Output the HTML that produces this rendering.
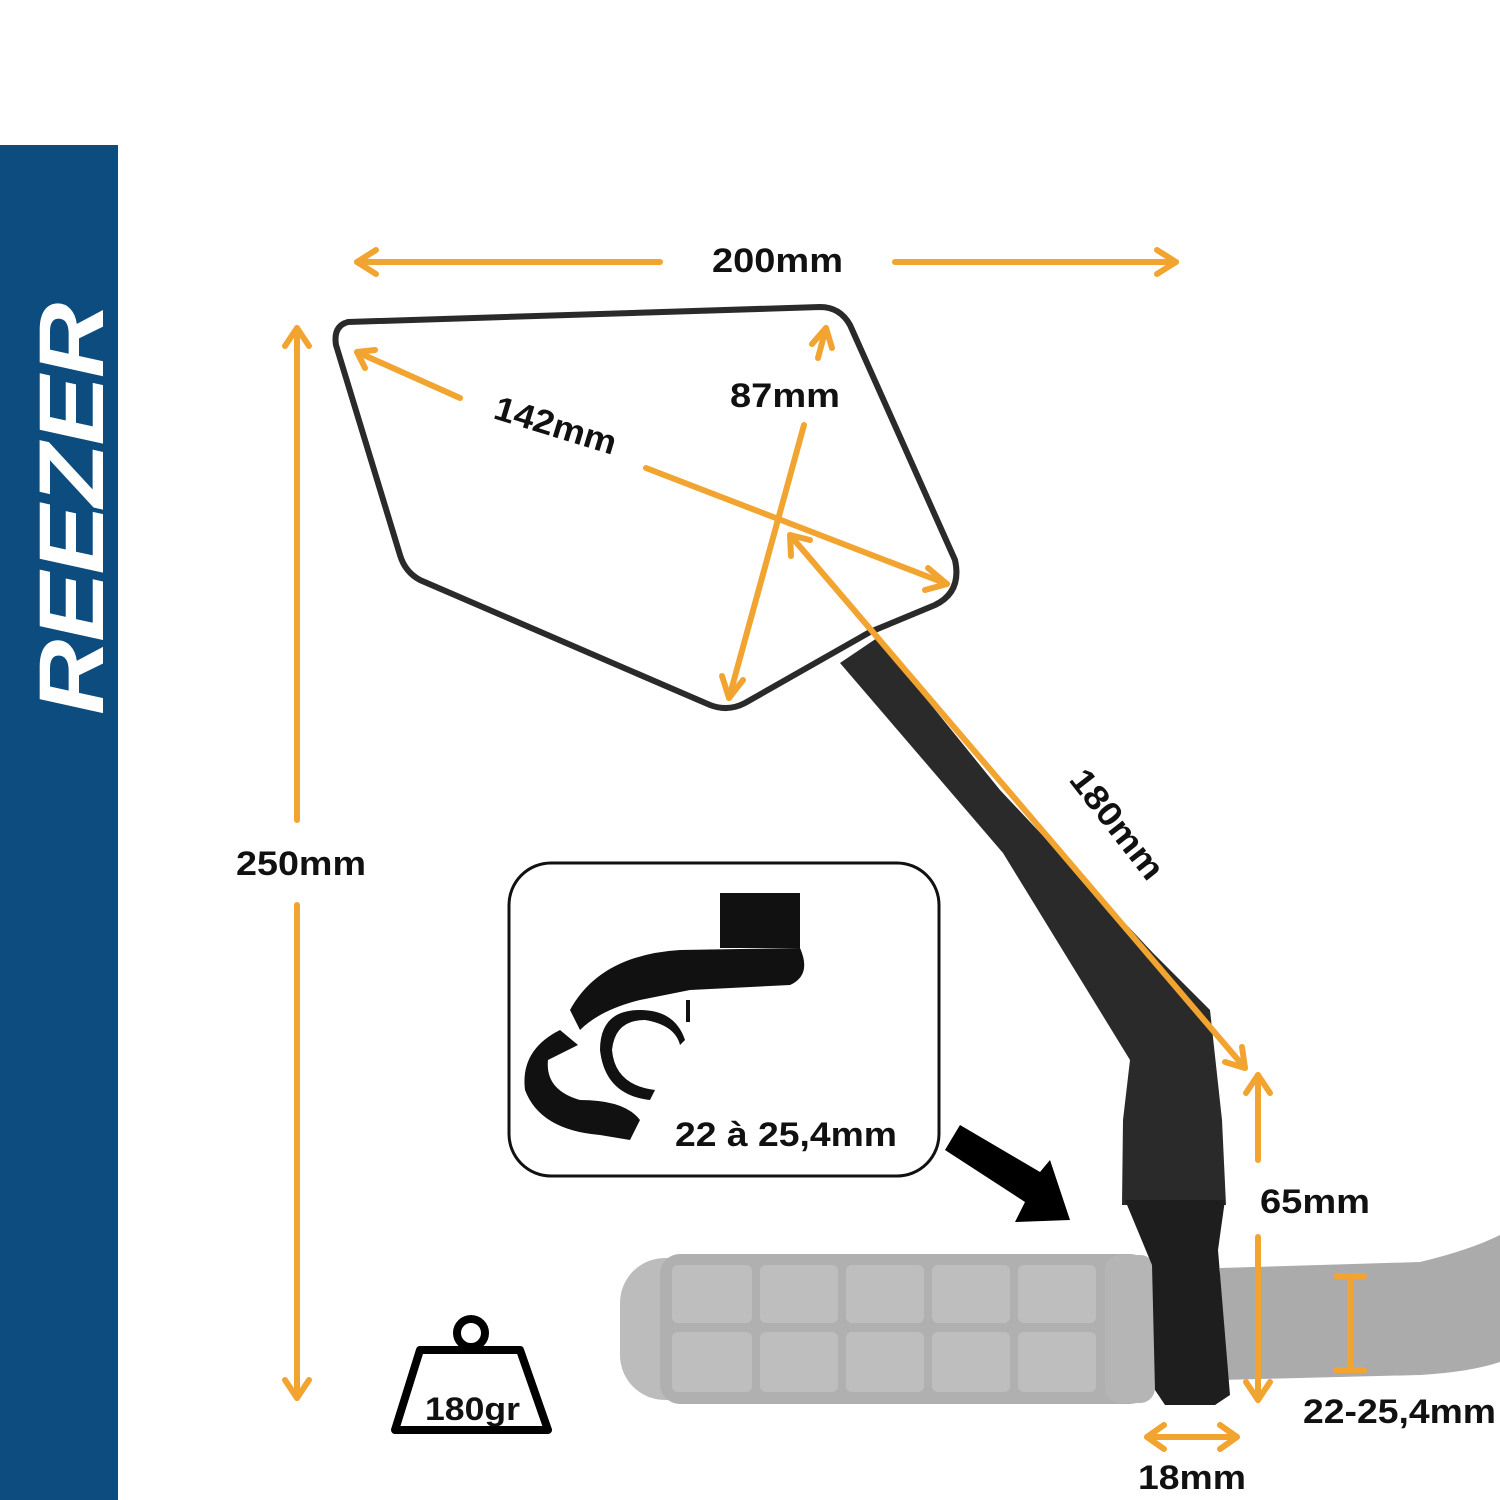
<!DOCTYPE html>
<html><head><meta charset="utf-8"><style>
html,body{margin:0;padding:0;background:#fff;}
svg{display:block}
text{font-family:"Liberation Sans","DejaVu Sans",sans-serif;font-weight:bold;fill:#111}
</style></head><body>
<svg width="1500" height="1500" viewBox="0 0 1500 1500" xmlns="http://www.w3.org/2000/svg">
<rect x="0" y="0" width="1500" height="1500" fill="#fff"/>
<rect x="0" y="145" width="118" height="1355" fill="#0c4c7e"/>
<text transform="translate(103,715) rotate(-90)" style="font-size:92px;font-style:italic;fill:#fff;letter-spacing:-2px" textLength="410" lengthAdjust="spacingAndGlyphs">REEZER</text>

<!-- grip -->
<g>
<rect x="620" y="1258" width="540" height="142" rx="45" fill="#bcbcbc"/>
<rect x="660" y="1254" width="490" height="150" rx="20" fill="#b0b0b0"/>
<g fill="#bebebe">
<rect x="672" y="1265" width="80" height="58" rx="6"/><rect x="760" y="1265" width="78" height="58" rx="6"/><rect x="846" y="1265" width="78" height="58" rx="6"/><rect x="932" y="1265" width="78" height="58" rx="6"/><rect x="1018" y="1265" width="78" height="58" rx="6"/>
<rect x="672" y="1332" width="80" height="60" rx="6"/><rect x="760" y="1332" width="78" height="60" rx="6"/><rect x="846" y="1332" width="78" height="60" rx="6"/><rect x="932" y="1332" width="78" height="60" rx="6"/><rect x="1018" y="1332" width="78" height="60" rx="6"/>
</g>
<rect x="1105" y="1255" width="50" height="148" rx="15" fill="#b5b5b5"/>
</g>
<!-- handlebar -->
<path d="M1220 1268 L1420 1262 Q1470 1250 1500 1235 L1500 1362 Q1470 1372 1420 1375 L1220 1380 Z" fill="#ababab"/>

<!-- arm -->
<path d="M840 663 L877 638 L1000 790 L1153 953 L1210 1010 L1222 1120 L1226 1205 L1122 1205 L1123 1120 L1130 1060 L1003 853 Z" fill="#2a2a2a"/>
<path d="M1125 1200 L1225 1200 L1218 1250 L1230 1395 L1215 1405 L1165 1405 L1155 1390 L1152 1265 Z" fill="#1e1e1e"/>

<!-- mirror -->
<path d="M348 322 L820 307 Q840 307 850 325 L955 560 Q962 592 935 605 L870 632 L745 703 Q728 712 710 705 L420 580 Q405 572 400 555 L336 345 Q333 326 348 322 Z" fill="#fff" stroke="#2a2a2a" stroke-width="6"/>

<!-- inset box -->
<rect x="509" y="863" width="430" height="313" rx="42" fill="#fff" stroke="#111" stroke-width="3"/>
<g fill="#111">
<rect x="720" y="893" width="80" height="55"/>
<path d="M570 1010 Q600 955 680 950 L800 948 Q812 975 790 985 L690 990 L640 1000 Q600 1010 580 1030 Z"/>
<path d="M560 1030 Q520 1050 525 1090 Q540 1130 600 1135 L630 1140 L640 1120 Q625 1100 580 1100 Q545 1090 548 1060 L578 1045 Z"/>
<path d="M640 1010 Q600 1010 600 1050 Q605 1095 650 1100 L655 1090 Q615 1085 612 1050 Q615 1020 645 1020 Q675 1025 680 1045 L685 1040 Q675 1010 640 1010 Z"/>
<rect x="686" y="1000" width="4" height="22"/>
</g>
<text x="675" y="1146" style="font-size:34px" textLength="222" lengthAdjust="spacingAndGlyphs">22 à 25,4mm</text>

<!-- black arrow -->
<path d="M945 1150 L960 1125 L1040 1172 L1050 1160 L1070 1220 L1015 1222 L1025 1202 Z" fill="#000"/>

<!-- weight -->
<circle cx="471" cy="1333" r="14" fill="none" stroke="#000" stroke-width="8"/>
<path d="M420 1350 L520 1350 L548 1430 L395 1430 Z" fill="#fff" stroke="#000" stroke-width="8" stroke-linejoin="round"/>
<text x="425" y="1420" style="font-size:32px" textLength="95" lengthAdjust="spacingAndGlyphs">180gr</text>

<!-- orange dimensions -->
<g stroke="#f2a431" stroke-width="6" fill="none" stroke-linecap="round" stroke-linejoin="round">
<line x1="357" y1="262" x2="660" y2="262"/><polyline points="376,250 357,262 376,274"/>
<line x1="895" y1="262" x2="1176" y2="262"/><polyline points="1157,250 1176,262 1157,274"/>
<line x1="297" y1="328" x2="297" y2="820"/><polyline points="285,346 297,328 309,346"/>
<line x1="297" y1="905" x2="297" y2="1398"/><polyline points="285,1380 297,1398 309,1380"/>
<line x1="357" y1="352" x2="460" y2="398"/><polyline points="365,368 357,352 375,350"/>
<line x1="646" y1="468" x2="947" y2="584"/><polyline points="928,568 947,584 925,590"/>
<line x1="826" y1="328" x2="818" y2="358"/><polyline points="812,344 826,328 832,348"/>
<line x1="804" y1="425" x2="729" y2="698"/><polyline points="722,676 729,698 743,680"/>
<line x1="790" y1="535" x2="1245" y2="1068"/><polyline points="791,556 790,535 810,540"/><polyline points="1225,1062 1245,1068 1242,1047"/>
<line x1="1258" y1="1075" x2="1258" y2="1160"/><polyline points="1246,1093 1258,1075 1270,1093"/>
<line x1="1258" y1="1237" x2="1258" y2="1400"/><polyline points="1246,1382 1258,1400 1270,1382"/>
<line x1="1350" y1="1276" x2="1350" y2="1370"/><line x1="1336" y1="1276" x2="1364" y2="1276"/><line x1="1336" y1="1370" x2="1364" y2="1370"/>
<line x1="1147" y1="1437" x2="1237" y2="1437"/><polyline points="1164,1425 1147,1437 1164,1449"/><polyline points="1220,1425 1237,1437 1220,1449"/>
</g>

<text x="712" y="272" style="font-size:34px" textLength="131" lengthAdjust="spacingAndGlyphs">200mm</text>
<text x="236" y="875" style="font-size:34px" textLength="130" lengthAdjust="spacingAndGlyphs">250mm</text>
<text x="730" y="407" style="font-size:34px" textLength="110" lengthAdjust="spacingAndGlyphs">87mm</text>
<text transform="translate(492,418) rotate(17)" style="font-size:34px" textLength="126" lengthAdjust="spacingAndGlyphs">142mm</text>
<text transform="translate(1068,780) rotate(52)" style="font-size:34px" textLength="130" lengthAdjust="spacingAndGlyphs">180mm</text>
<text x="1260" y="1213" style="font-size:34px" textLength="110" lengthAdjust="spacingAndGlyphs">65mm</text>
<text x="1303" y="1423" style="font-size:34px" textLength="193" lengthAdjust="spacingAndGlyphs">22-25,4mm</text>
<text x="1138" y="1489" style="font-size:34px" textLength="108" lengthAdjust="spacingAndGlyphs">18mm</text>
</svg>
</body></html>
